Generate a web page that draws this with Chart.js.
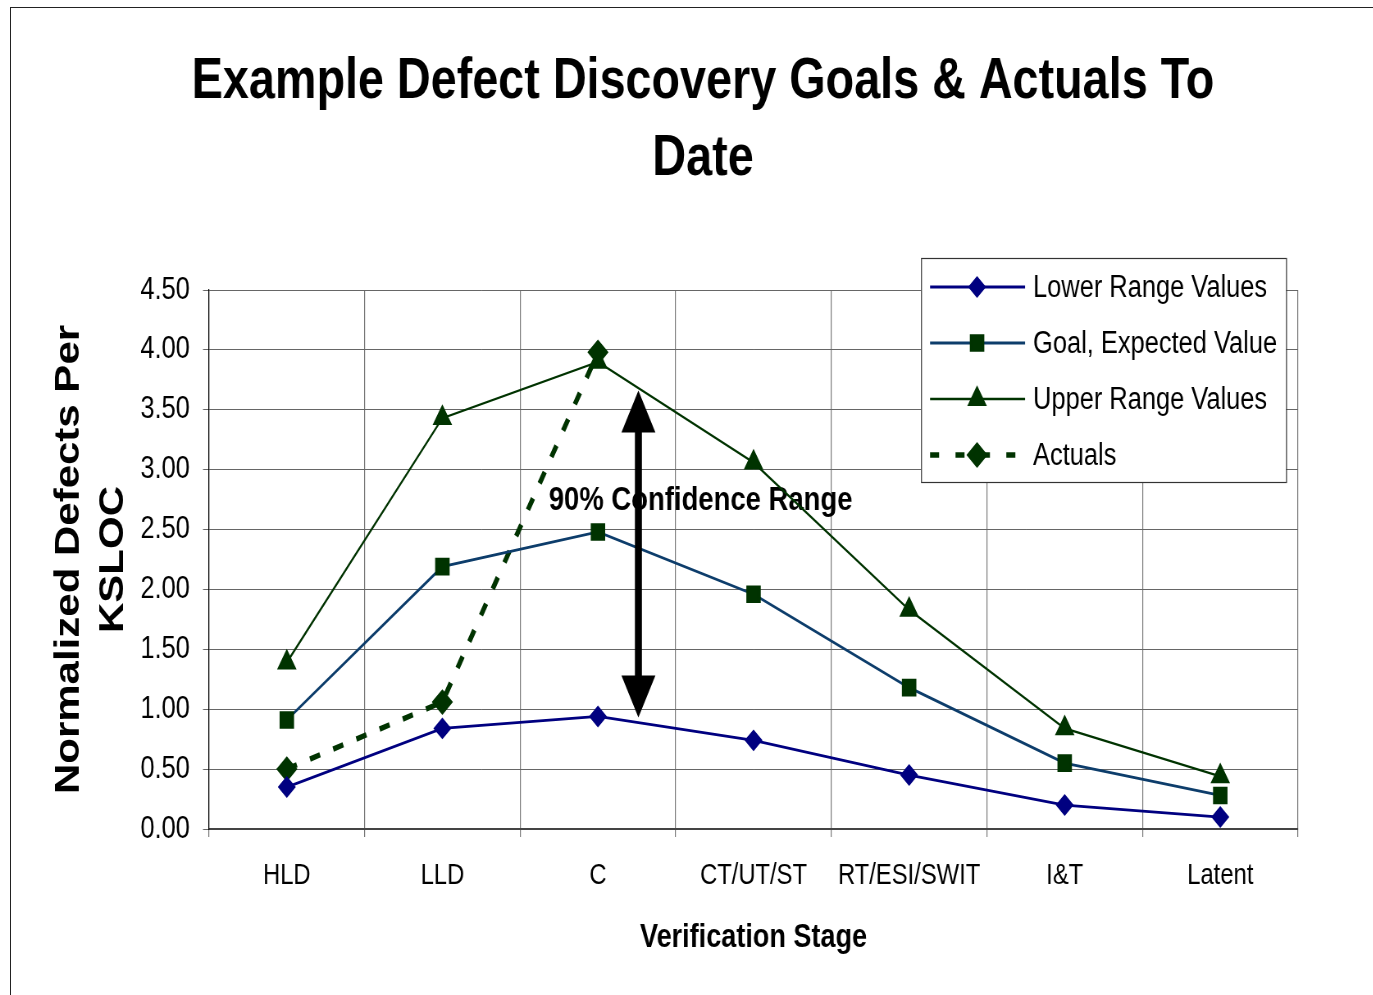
<!DOCTYPE html>
<html>
<head>
<meta charset="utf-8">
<title>Example Defect Discovery Goals &amp; Actuals To Date</title>
<script src="https://cdn.jsdelivr.net/npm/chart.js@4.4.1/dist/chart.umd.min.js"></script>
<style>
  html, body { margin: 0; padding: 0; background: #fff; overflow: hidden; }
  .frame { position: absolute; left: 10px; top: 7px; width: 1400px; height: 1100px; border: 1px solid #222; }
  /* the original uses a narrow face; no narrow font here, so the chart is drawn wide and squeezed */
  .wrap { position: absolute; left: 0; top: 0; width: 1674px; height: 995px; transform: scaleX(0.82); transform-origin: 0 0; }
</style>
</head>
<body>
<div class="frame"></div>
<div class="wrap"><canvas id="defectChart"></canvas></div>
<script>
const titleLines = ["Example Defect Discovery Goals & Actuals To", "Date"];
const stages = ["HLD", "LLD", "C", "CT/UT/ST", "RT/ESI/SWIT", "I&T", "Latent"];
const lowerRange = [0.35, 0.84, 0.94, 0.74, 0.45, 0.20, 0.10];
const goalExpected = [0.91, 2.19, 2.48, 1.96, 1.18, 0.55, 0.28];
const upperRange = [1.39, 3.43, 3.90, 3.06, 1.83, 0.84, 0.44];
const actuals = [0.50, 1.06, 3.98, null, null, null, null];
const yTicks = [0, 0.5, 1, 1.5, 2, 2.5, 3, 3.5, 4, 4.5];

// the 90% range arrow sits a quarter of a stage right of "C"
const rangeArrow = { at: 2.26, from: 3.66, to: 0.93 };
const rangeLabel = { text: "90% Confidence Range", at: 2.66, y: 2.74 };

const squeeze = 0.82;
function sx(pageX) { return pageX / squeeze; }

const fontFamily = '"Liberation Sans", Arial, sans-serif';

const titlePlugin = {
  id: "pageTitle",
  afterDraw(chart) {
    const ctx = chart.ctx;
    ctx.save();
    ctx.fillStyle = "#000";
    ctx.font = "bold 57px " + fontFamily;
    ctx.textAlign = "center";
    ctx.textBaseline = "middle";
    titleLines.forEach(function (line, i) {
      ctx.fillText(line, sx(703), 82 + i * 77.5);
    });
    ctx.restore();
  }
};

const rangePlugin = {
  id: "confidenceRange",
  beforeDatasetsDraw(chart) {
    const ctx = chart.ctx;
    const x = chart.scales.x.getPixelForValue(rangeLabel.at);
    const y = chart.scales.y.getPixelForValue(rangeLabel.y);
    ctx.save();
    ctx.fillStyle = "#000";
    ctx.font = "bold 33.5px " + fontFamily;
    ctx.textAlign = "center";
    ctx.textBaseline = "middle";
    ctx.fillText(rangeLabel.text, x, y);
    ctx.restore();
  },
  afterDatasetsDraw(chart) {
    const ctx = chart.ctx;
    const x = chart.scales.x.getPixelForValue(rangeArrow.at);
    const y1 = chart.scales.y.getPixelForValue(rangeArrow.from);
    const y2 = chart.scales.y.getPixelForValue(rangeArrow.to);
    const headW = sx(17), headL = 42, shaft = sx(3.5);
    ctx.save();
    ctx.fillStyle = "#000";
    ctx.beginPath();
    ctx.moveTo(x, y1);
    ctx.lineTo(x + headW, y1 + headL);
    ctx.lineTo(x + shaft, y1 + headL);
    ctx.lineTo(x + shaft, y2 - headL);
    ctx.lineTo(x + headW, y2 - headL);
    ctx.lineTo(x, y2);
    ctx.lineTo(x - headW, y2 - headL);
    ctx.lineTo(x - shaft, y2 - headL);
    ctx.lineTo(x - shaft, y1 + headL);
    ctx.lineTo(x - headW, y1 + headL);
    ctx.closePath();
    ctx.fill();
    ctx.restore();
  }
};

const legendPlugin = {
  id: "boxLegend",
  afterDraw(chart) {
    const ctx = chart.ctx;
    const area = chart.chartArea;
    const left = area.right - sx(377);
    const top = area.top - 32;
    const boxW = sx(365);
    ctx.save();
    ctx.fillStyle = "#fff";
    ctx.fillRect(left, top, boxW, 224);
    ctx.strokeStyle = "#333";
    ctx.lineWidth = 1.2;
    ctx.strokeRect(left + 0.5, top + 0.5, boxW, 224);

    chart.data.datasets.forEach(function (ds, i) {
      const y = top + 29 + i * 56;
      ctx.strokeStyle = ds.borderColor;
      ctx.lineWidth = ds.borderWidth;
      ctx.setLineDash(ds.borderDash ? [11, 20] : []);
      ctx.lineDashOffset = 0;
      ctx.beginPath();
      ctx.moveTo(left + sx(9), y);
      ctx.lineTo(left + sx(104), y);
      ctx.stroke();
      ctx.setLineDash([]);

      ctx.fillStyle = ds.pointBackgroundColor;
      ctx.strokeStyle = ds.pointBorderColor;
      Chart.helpers.drawPoint(ctx, {
        pointStyle: ds.pointStyle,
        radius: ds.pointRadius,
        rotation: 0,
        borderWidth: 1
      }, left + sx(56), y);

      ctx.fillStyle = "#000";
      ctx.font = "31px " + fontFamily;
      ctx.textAlign = "left";
      ctx.textBaseline = "middle";
      ctx.fillText(ds.label, left + sx(112), y + 1);
    });
    ctx.restore();
  }
};

new Chart(document.getElementById("defectChart"), {
  type: "line",
  data: {
    labels: stages,
    datasets: [
      {
        label: "Lower Range Values",
        data: lowerRange,
        borderColor: "#000080",
        borderWidth: 2.8,
        pointStyle: "rectRot",
        pointRadius: 9,
        pointBackgroundColor: "#000080",
        pointBorderColor: "#000080"
      },
      {
        label: "Goal, Expected Value",
        data: goalExpected,
        borderColor: "#0d3d6b",
        borderWidth: 2.8,
        pointStyle: "rect",
        pointRadius: 10.5,
        pointBackgroundColor: "#003300",
        pointBorderColor: "#003300"
      },
      {
        label: "Upper Range Values",
        data: upperRange,
        borderColor: "#003300",
        borderWidth: 2.3,
        pointStyle: "triangle",
        pointRadius: 11.5,
        pointBackgroundColor: "#003300",
        pointBorderColor: "#003300"
      },
      {
        label: "Actuals",
        data: actuals,
        borderColor: "#003300",
        borderWidth: 5.5,
        borderDash: [13, 17],
        pointStyle: "rectRot",
        pointRadius: 9,
        pointBackgroundColor: "#003300",
        pointBorderColor: "#003300"
      }
    ]
  },
  options: {
    responsive: true,
    maintainAspectRatio: false,
    animation: false,
    layout: {
      padding: { top: 290, left: 0, right: 91, bottom: 0 }
    },
    elements: {
      line: { tension: 0, fill: false },
      point: { hoverRadius: 9 }
    },
    plugins: {
      legend: { display: false },
      title: { display: false },
      tooltip: { enabled: false }
    },
    scales: {
      x: {
        offset: true,
        grid: { offset: true, color: "#777", lineWidth: 1.2, tickLength: 8 },
        border: { color: "#444", width: 2 },
        ticks: {
          color: "#000",
          padding: 22,
          maxRotation: 0,
          autoSkip: false,
          font: { family: fontFamily, size: 29 }
        },
        title: {
          display: true,
          text: "Verification Stage",
          color: "#000",
          font: { family: fontFamily, size: 33, weight: "bold", lineHeight: 1.2 },
          padding: { top: 0, bottom: 37 }
        },
        afterFit: function (scale) {
          scale.height = 166;
        }
      },
      y: {
        min: 0,
        max: 4.5,
        afterBuildTicks: function (scale) {
          scale.ticks = yTicks.map(function (v) { return { value: v }; });
        },
        grid: { color: "#666", tickLength: sx(6) },
        border: { color: "#000", width: 1.2 },
        ticks: {
          color: "#000",
          padding: 16,
          font: { family: fontFamily, size: 31 },
          callback: function (value) { return Number(value).toFixed(2); }
        },
        title: {
          display: true,
          text: ["Normalized Defects Per", "KSLOC"],
          color: "#000",
          font: { family: fontFamily, size: 42, weight: "bold", lineHeight: sx(44) + "px" },
          padding: { top: 58, bottom: 0 }
        },
        afterFit: function (scale) {
          scale.width = sx(209);
        }
      }
    }
  },
  plugins: [titlePlugin, rangePlugin, legendPlugin]
});
</script>
</body>
</html>
